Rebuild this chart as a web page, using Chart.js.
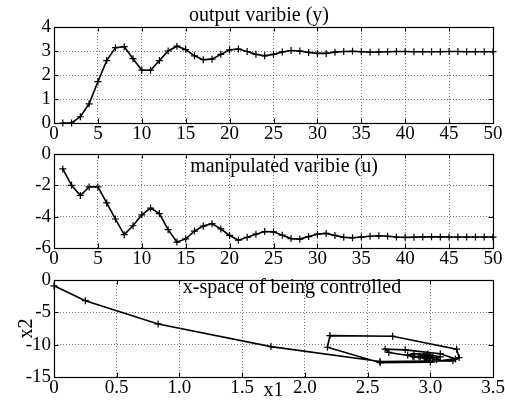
<!DOCTYPE html>
<html>
<head>
<meta charset="utf-8">
<script src="https://cdn.jsdelivr.net/npm/chart.js@4/dist/chart.umd.min.js"></script>
<style>
  html, body { margin: 0; padding: 0; background: #fff; }
  #wrap { position: relative; width: 505px; height: 403px; overflow: hidden; }
  .panel { position: absolute; left: 0; top: 0; width: 505px; height: 403px; }
</style>
</head>
<body>
<div id="wrap">
  <div class="panel"><canvas id="c1"></canvas></div>
  <div class="panel"><canvas id="c2"></canvas></div>
  <div class="panel"><canvas id="c3"></canvas></div>
</div>
<script>
// ---- data ----
const steps = [1,2,3,4,5,6,7,8,9,10,11,12,13,14,15,16,17,18,19,20,21,22,23,24,25,
               26,27,28,29,30,31,32,33,34,35,36,37,38,39,40,41,42,43,44,45,46,47,48,49,50];
const outputY = [0, 0, 0.26, 0.8, 1.72, 2.6, 3.14, 3.18, 2.68, 2.2,
                 2.2, 2.6, 3.0, 3.2, 3.06, 2.8, 2.64, 2.66, 2.86, 3.05,
                 3.08, 2.98, 2.86, 2.8, 2.86, 2.96, 3.02, 3.0, 2.94, 2.9,
                 2.9, 2.95, 2.98, 2.99, 2.97, 2.95, 2.96, 2.97, 2.98, 2.98,
                 2.97, 2.97, 2.97, 2.97, 2.98, 2.98, 2.97, 2.97, 2.97, 2.97];
const manipU = [-0.95, -2.0, -2.65, -2.1, -2.1, -3.12, -4.15, -5.15, -4.58, -3.88,
                -3.45, -3.8, -4.83, -5.62, -5.42, -4.92, -4.6, -4.45, -4.78, -5.2,
                -5.5, -5.32, -5.12, -4.95, -4.97, -5.18, -5.4, -5.43, -5.27, -5.12,
                -5.07, -5.2, -5.32, -5.35, -5.3, -5.25, -5.22, -5.25, -5.3, -5.32,
                -5.31, -5.29, -5.28, -5.29, -5.3, -5.3, -5.3, -5.3, -5.3, -5.3];
const stateX1 = [0, 0.25, 0.83, 1.73, 2.6, 3.18, 3.23, 3.21, 2.7, 2.2,
                 2.18, 2.6, 3.0, 3.2, 3.08, 2.8, 2.64, 2.67, 2.86, 3.05,
                 3.08, 2.98, 2.87, 2.82, 2.87, 2.96, 3.02, 3.0, 2.95, 2.91,
                 2.92, 2.96, 2.99, 3.0, 2.97, 2.95, 2.96, 2.97, 2.98, 2.98];
const stateX2 = [-0.9, -3.2, -6.8, -10.3, -12.6, -12.5, -12.0, -10.7, -8.7, -8.6,
                 -10.4, -12.8, -12.7, -12.2, -11.4, -10.8, -10.7, -11.2, -11.8, -12.3,
                 -11.9, -11.5, -11.4, -11.6, -11.9, -12.1, -12.0, -11.8, -11.7, -11.8,
                 -11.9, -12.0, -12.0, -11.9, -11.85, -11.9, -11.95, -12.0, -11.95, -11.9];
const titles = ["output varibie (y)", "manipulated varibie (u)", "x-space of being controlled"];
const xTitle3 = "x1";
const yTitle3 = "x2";

// ---- styling helpers ----
const FONT = "'Liberation Serif', 'Times New Roman', serif";
Chart.defaults.font.family = FONT;
Chart.defaults.color = '#000';

const framePlugin = {
  id: 'frame',
  afterDatasetsDraw(chart, args, opts) {
    const {ctx, chartArea: a, scales} = chart;
    ctx.save();
    ctx.strokeStyle = '#000';
    ctx.lineWidth = 1;
    // inward ticks
    const tl = 4.5;
    ctx.beginPath();
    scales.x.ticks.forEach(t => {
      const px = Math.round(scales.x.getPixelForValue(t.value)) + 0.5;
      ctx.moveTo(px, a.bottom); ctx.lineTo(px, a.bottom - tl);
      ctx.moveTo(px, a.top); ctx.lineTo(px, a.top + tl);
    });
    scales.y.ticks.forEach(t => {
      const py = Math.round(scales.y.getPixelForValue(t.value)) + 0.5;
      ctx.moveTo(a.left, py); ctx.lineTo(a.left + tl, py);
      ctx.moveTo(a.right, py); ctx.lineTo(a.right - tl, py);
    });
    ctx.stroke();
    ctx.lineWidth = 1.2;
    ctx.strokeRect(Math.round(a.left) + 0.5, Math.round(a.top) + 0.5,
                   Math.round(a.right - a.left), Math.round(a.bottom - a.top));
    // panel title
    if (opts && opts.text) {
      ctx.fillStyle = '#000';
      ctx.font = "20px " + FONT;
      ctx.textAlign = 'center';
      ctx.textBaseline = 'alphabetic';
      ctx.fillText(opts.text, opts.x, opts.y);
    }
    ctx.restore();
  }
};

function gridOpts() {
  return { color: 'rgba(0,0,0,0.55)', lineWidth: 1, drawTicks: false };
}
function borderOpts() {
  return { display: false, dash: [1, 2] };
}

function makeChart(id, datasets, cfg) {
  return new Chart(document.getElementById(id), {
    type: 'scatter',
    data: { datasets },
    options: {
      responsive: true,
      maintainAspectRatio: false,
      animation: false,
      events: [],
      layout: { padding: cfg.padding },
      plugins: {
        legend: { display: false },
        tooltip: { enabled: false },
        frame: cfg.title
      },
      scales: {
        x: {
          type: 'linear', min: cfg.xmin, max: cfg.xmax,
          grid: gridOpts(), border: borderOpts(),
          ticks: { stepSize: cfg.xstep, padding: 0, font: { size: 19 }, maxRotation: 0, autoSkip: false },
          title: cfg.xtitle || { display: false },
          afterFit: s => { s.height = cfg.xh; s.paddingLeft = 0; s.paddingRight = 0; }
        },
        y: {
          type: 'linear', min: cfg.ymin, max: cfg.ymax,
          grid: gridOpts(), border: borderOpts(),
          ticks: { stepSize: cfg.ystep, padding: 3, font: { size: 19 }, autoSkip: false },
          title: cfg.ytitle || { display: false },
          afterFit: s => { s.width = 54; s.paddingTop = 0; s.paddingBottom = 0; }
        }
      }
    },
    plugins: [framePlugin]
  });
}

function lineDataset(xs, ys) {
  return {
    data: xs.map((x, i) => ({ x: x, y: ys[i] })),
    showLine: true,
    borderColor: '#000',
    backgroundColor: '#000',
    borderWidth: 1.6,
    tension: 0,
    pointStyle: 'cross',
    pointRadius: 3.5,
    pointBorderWidth: 1.2,
    pointBorderColor: '#000',
    clip: false
  };
}

makeChart('c1', [lineDataset(steps, outputY)], {
  padding: { top: 27, right: 12, bottom: 260, left: 0 },
  xmin: 0, xmax: 50, xstep: 5, ymin: 0, ymax: 4, ystep: 1, xh: 20,
  title: { text: titles[0], x: 259, y: 21 }
});
makeChart('c2', [lineDataset(steps, manipU)], {
  padding: { top: 154, right: 12, bottom: 135, left: 0 },
  xmin: 0, xmax: 50, xstep: 5, ymin: -6, ymax: 0, ystep: 2, xh: 20,
  title: { text: titles[1], x: 284, y: 172 }
});
makeChart('c3', [lineDataset(stateX1, stateX2)], {
  padding: { top: 280, right: 12, bottom: 0, left: 0 },
  xmin: 0, xmax: 3.5, xstep: 0.5, ymin: -15, ymax: 0, ystep: 5, xh: 26,
  xtitle: { display: true, text: xTitle3, font: { size: 20 }, padding: { top: 0, bottom: 0 } },
  ytitle: { display: true, text: yTitle3, font: { size: 20 }, padding: { top: 15, bottom: 0 } },
  title: { text: titles[2], x: 292, y: 293 }
});
</script>
</body>
</html>
